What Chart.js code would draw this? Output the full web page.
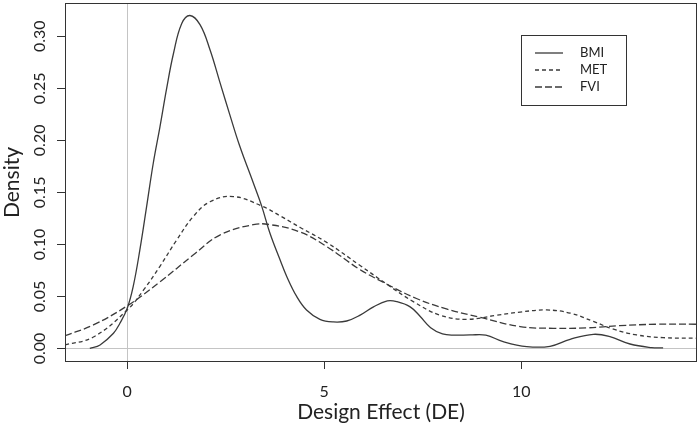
<!DOCTYPE html>
<html>
<head>
  <script src="https://cdn.jsdelivr.net/npm/chart.js@4.4.1/dist/chart.umd.min.js"></script>
  <style>
    body { margin: 0; background: #fff; }
  </style>
</head>
<body>
  <canvas id="wykres" width="700" height="429"></canvas>
  <script>
// density curves (x = design effect, y = density)
const bmiX = [-0.95, -0.69, -0.35, -0.19, 0, 0.15, 0.32, 0.49, 0.66, 0.83, 1.0, 1.17, 1.38, 1.59, 1.85, 2.1, 2.35, 2.6, 2.85, 3.2, 3.41, 3.62, 3.88, 4.05, 4.3, 4.55, 4.89, 5.23, 5.57, 5.91, 6.25, 6.6, 6.84, 7.18, 7.43, 7.7, 8.0, 8.3, 8.7, 9.1, 9.54, 10.14, 10.73, 11.24, 11.83, 12.25, 12.76, 13.31, 13.6];
const bmiY = [0.0, 0.0034, 0.0146, 0.024, 0.0387, 0.0594, 0.0947, 0.136, 0.178, 0.213, 0.250, 0.283, 0.312, 0.320, 0.311, 0.287, 0.256, 0.225, 0.195, 0.159, 0.137, 0.111, 0.085, 0.069, 0.050, 0.037, 0.028, 0.0255, 0.0264, 0.032, 0.040, 0.0457, 0.045, 0.040, 0.031, 0.020, 0.014, 0.0128, 0.013, 0.0128, 0.0066, 0.0018, 0.0021, 0.0088, 0.0136, 0.0114, 0.0043, 0.0008, 0.0005];

const metX = [-1.58, -0.86, 0, 0.41, 0.83, 1.25, 1.68, 2.1, 2.69, 3.41, 3.9, 4.4, 5.06, 5.9, 6.58, 7.26, 7.94, 8.61, 9.38, 9.97, 10.64, 11.24, 11.83, 12.34, 12.93, 13.6, 14.45];
const metY = [0.0034, 0.011, 0.037, 0.056, 0.079, 0.104, 0.127, 0.141, 0.146, 0.137, 0.127, 0.116, 0.102, 0.080, 0.062, 0.045, 0.032, 0.028, 0.032, 0.035, 0.037, 0.034, 0.026, 0.0185, 0.013, 0.0104, 0.0098];

const fviX = [-1.58, -0.86, 0, 0.83, 1.68, 2.35, 3.2, 3.62, 4.38, 5.06, 5.9, 6.58, 7.34, 8.1, 8.95, 9.97, 10.81, 11.66, 12.5, 13.44, 14.45];
const fviY = [0.0123, 0.0226, 0.041, 0.064, 0.090, 0.109, 0.119, 0.119, 0.112, 0.098, 0.076, 0.062, 0.048, 0.038, 0.030, 0.021, 0.0194, 0.0198, 0.0219, 0.0233, 0.0233];

const seriesNames = ['BMI', 'MET', 'FVI'];
const xTicks = [0, 5, 10];
const yTicks = [0, 0.05, 0.10, 0.15, 0.20, 0.25, 0.30];

const lineColor = '#3a3a3a';
const fontName = 'Lato, "Open Sans", sans-serif';

function punkty(xs, ys) {
  return xs.map((x, i) => ({ x: x, y: ys[i] }));
}

// R-style boxed legend inside the plot + box around plot area
const ramka = {
  id: 'ramka',
  afterDraw(chart) {
    const ctx = chart.ctx;
    const a = chart.chartArea;
    ctx.save();
    ctx.strokeStyle = '#333';
    ctx.lineWidth = 1;
    ctx.strokeRect(a.left + 0.5, a.top + 0.5, a.right - a.left - 1, a.bottom - a.top - 1);

    // legend
    const lx = 521, ly = 35, lw = 105, lh = 70;
    ctx.fillStyle = '#fff';
    ctx.fillRect(lx, ly, lw, lh);
    ctx.strokeRect(lx + 0.5, ly + 0.5, lw, lh);
    chart.data.datasets.forEach((ds, i) => {
      const y = ly + 18 + i * 17;
      ctx.beginPath();
      ctx.setLineDash(ds.borderDash || []);
      ctx.strokeStyle = ds.borderColor;
      ctx.lineWidth = ds.borderWidth;
      ctx.moveTo(lx + 14, y);
      ctx.lineTo(lx + 42, y);
      ctx.stroke();
      ctx.setLineDash([]);
      ctx.fillStyle = '#222';
      ctx.font = '13px ' + fontName;
      ctx.textAlign = 'left';
      ctx.textBaseline = 'middle';
      ctx.fillText(ds.label, lx + 59, y);
    });
    ctx.restore();
  }
};

const ctx = document.getElementById('wykres');
const myChart = new Chart(ctx, {
  type: 'line',
  data: {
    datasets: [
      { label: seriesNames[0], data: punkty(bmiX, bmiY), borderDash: [] },
      { label: seriesNames[1], data: punkty(metX, metY), borderDash: [4, 3] },
      { label: seriesNames[2], data: punkty(fviX, fviY), borderDash: [7, 3] }
    ].map(ds => Object.assign(ds, {
      borderColor: lineColor,
      borderWidth: 1.3,
      pointRadius: 0,
      fill: false,
      tension: 0.4
    }))
  },
  options: {
    responsive: false,
    animation: false,
    devicePixelRatio: 1,
    layout: { padding: { top: 3, right: 3, left: 0, bottom: 0 } },
    plugins: {
      legend: { display: false },
      tooltip: { enabled: false }
    },
    scales: {
      x: {
        type: 'linear',
        min: -1.58,
        max: 14.46,
        afterFit(scale) {
          scale.height = 67;
          scale.paddingLeft = 0;
          scale.paddingRight = 0;
        },
        afterBuildTicks(scale) { scale.ticks = xTicks.map(v => ({ value: v })); },
        border: { display: false },
        grid: {
          drawOnChartArea: true,
          color: c => (c.tick && c.tick.value === 0) ? '#c4c4c4' : 'rgba(0,0,0,0)',
          tickColor: '#333',
          tickLength: 7,
          lineWidth: 1
        },
        ticks: {
          color: '#222',
          font: { family: fontName, size: 16 },
          padding: 13,
          maxRotation: 0
        },
        title: {
          display: true,
          text: 'Design Effect (DE)',
          color: '#222',
          font: { family: fontName, size: 21 },
          padding: { bottom: 4 }
        }
      },
      y: {
        type: 'linear',
        min: -0.013,
        max: 0.332,
        afterFit(scale) {
          scale.width = 65;
          scale.paddingTop = 0;
          scale.paddingBottom = 0;
        },
        afterBuildTicks(scale) { scale.ticks = yTicks.map(v => ({ value: v })); },
        border: { display: false },
        grid: {
          drawOnChartArea: true,
          color: c => (c.tick && c.tick.value === 0) ? '#c4c4c4' : 'rgba(0,0,0,0)',
          tickColor: '#333',
          tickLength: 8,
          lineWidth: 1
        },
        ticks: {
          color: '#222',
          font: { family: fontName, size: 16 },
          padding: 1,
          minRotation: 90,
          maxRotation: 90,
          crossAlign: 'center',
          callback: v => v.toFixed(2)
        },
        title: {
          display: true,
          text: 'Density',
          color: '#222',
          font: { family: fontName, size: 21 },
          padding: { top: 0 }
        }
      }
    }
  },
  plugins: [ramka]
});
  </script>
</body>
</html>
